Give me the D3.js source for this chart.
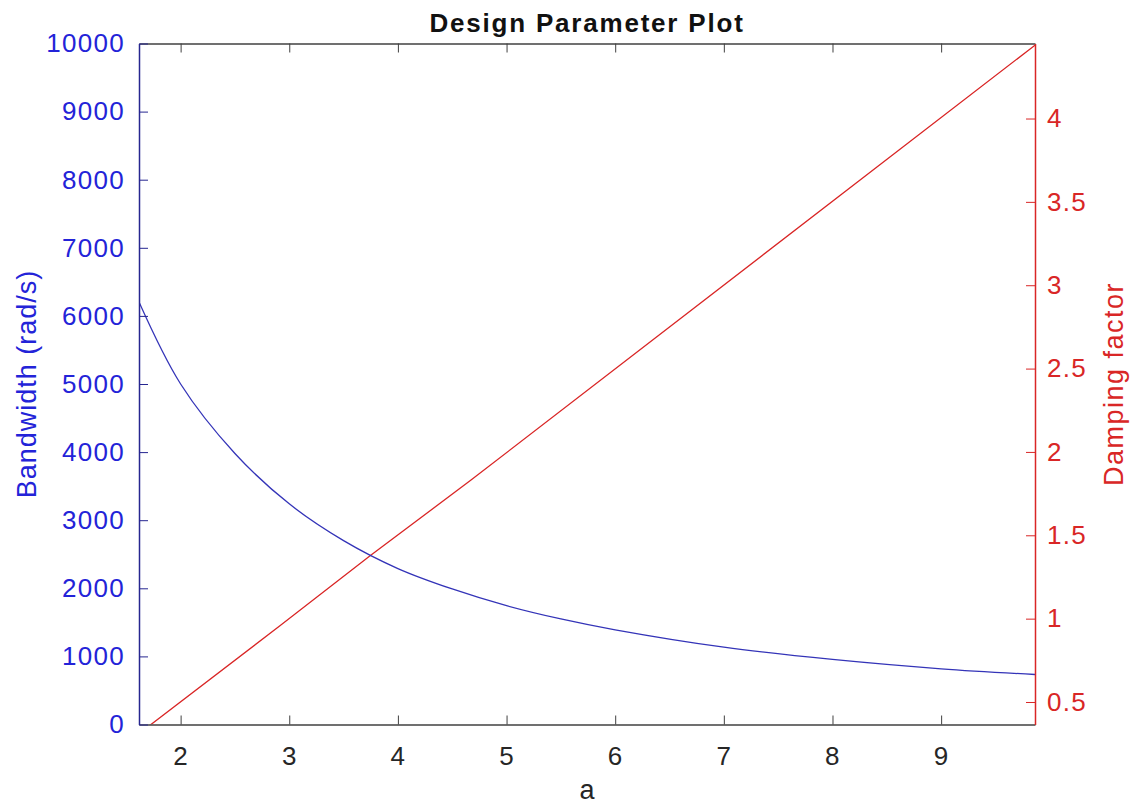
<!DOCTYPE html>
<html>
<head>
<meta charset="utf-8">
<script src="https://cdn.jsdelivr.net/npm/d3@7"></script>
<style>
  body { margin: 0; background: #fff; }
  text { font-family: "Liberation Sans", Arial, sans-serif; }
</style>
</head>
<body>
<svg id="chart" width="1134" height="807"></svg>
<script>
// values
const aBand = [1.617, 2.0, 2.5, 3.0, 3.5, 4.0, 4.5, 5.0, 5.5, 6.0, 7.0, 8.0, 9.0, 9.864];
const bandwidth = [6204, 5000, 3980, 3240, 2700, 2290, 1990, 1745, 1550, 1390, 1135, 955, 818, 734];
const aDamp = [1.617, 2.92, 3.75, 4.67, 9.864];
const damping = [0.31, 0.96, 1.38, 1.83, 4.44];
const xTicks = [2, 3, 4, 5, 6, 7, 8, 9];
const leftTicks = [0, 1000, 2000, 3000, 4000, 5000, 6000, 7000, 8000, 9000, 10000];
const rightTicks = [0.5, 1, 1.5, 2, 2.5, 3, 3.5, 4];

const blue = "#2323d8", red = "#d92626";

let dimensions = (svg, m) =>
    ({width: +svg.attr("width"), height: +svg.attr("height"), margin: m,
      innerWidth: +svg.attr("width") - m.left - m.right,
      innerHeight: +svg.attr("height") - m.top - m.bottom});

function designPlot(id) {
    const svg = d3.select(`#${id}`);
    const dim = dimensions(svg, {top: 43.5, left: 139, right: 99, bottom: 82.5});
    const g = svg.append("g")
          .attr("transform", `translate(${dim.margin.left}, ${dim.margin.top})`);

    const x = d3.scaleLinear().domain([1.617, 9.864]).range([0, dim.innerWidth]);
    const yL = d3.scaleLinear().domain([0, 10000]).range([dim.innerHeight, 0]);
    const yR = d3.scaleLinear().domain([0.365, 4.45]).range([dim.innerHeight, 0]);

    g.append("clipPath").attr("id", "clip")
        .append("rect").attr("width", dim.innerWidth).attr("height", dim.innerHeight);

    const band = aBand.map((a, i) => [a, bandwidth[i]]);
    const damp = aDamp.map((a, i) => [a, damping[i]]);

    g.append("path")
        .attr("clip-path", "url(#clip)")
        .attr("d", d3.line().x(d => x(d[0])).y(d => yR(d[1]))(damp))
        .attr("fill", "none")
        .attr("stroke", red)
        .attr("stroke-width", 1.3);

    g.append("path")
        .attr("clip-path", "url(#clip)")
        .attr("d", d3.line().curve(d3.curveCatmullRom).x(d => x(d[0])).y(d => yL(d[1]))(band))
        .attr("fill", "none")
        .attr("stroke", "#3434b8")
        .attr("stroke-width", 1.3);

    const tickFont = sel => sel.attr("font-size", 26).attr("letter-spacing", 1.3)
        .attr("font-family", "Liberation Sans, Arial, sans-serif");

    // bottom axis
    const xAxis = g.append("g")
          .attr("transform", `translate(0, ${dim.innerHeight})`)
          .call(d3.axisBottom(x).tickValues(xTicks).tickSize(-9).tickPadding(22).tickSizeOuter(0));
    xAxis.select(".domain").attr("stroke", "#404040").attr("stroke-width", 1.5);
    xAxis.selectAll(".tick line").attr("stroke", "#404040");
    xAxis.selectAll("text").attr("fill", "#262626").call(tickFont);

    // top axis
    const topAxis = g.append("g")
          .call(d3.axisTop(x).tickValues(xTicks).tickSize(-9).tickFormat("").tickSizeOuter(0));
    topAxis.select(".domain").attr("stroke", "#404040").attr("stroke-width", 1.5);
    topAxis.selectAll(".tick line").attr("stroke", "#404040");

    // left axis
    const left = g.append("g")
          .call(d3.axisLeft(yL).tickValues(leftTicks).tickSize(-9).tickPadding(14).tickSizeOuter(0)
                .tickFormat(d3.format("d")));
    left.select(".domain").attr("stroke", "#262690").attr("stroke-width", 1.5);
    left.selectAll(".tick line").attr("stroke", "#262690");
    left.selectAll("text").attr("fill", blue).call(tickFont);

    // right axis
    const right = g.append("g")
          .attr("transform", `translate(${dim.innerWidth}, 0)`)
          .call(d3.axisRight(yR).tickValues(rightTicks).tickSize(-9).tickPadding(12).tickSizeOuter(0)
                .tickFormat(d3.format("")));
    right.select(".domain").attr("stroke", red).attr("stroke-width", 1.5);
    right.selectAll(".tick line").attr("stroke", red);
    right.selectAll("text").attr("fill", red).call(tickFont);

    // title and labels
    svg.append("text")
        .attr("x", dim.margin.left + dim.innerWidth / 2).attr("y", 32)
        .attr("text-anchor", "middle").attr("font-size", 26).attr("font-weight", "bold")
        .attr("letter-spacing", 1.8)
        .attr("fill", "#111").text("Design Parameter Plot");

    svg.append("text")
        .attr("x", dim.margin.left + dim.innerWidth / 2).attr("y", 799)
        .attr("text-anchor", "middle").attr("font-size", 27)
        .attr("fill", "#262626").text("a");

    svg.append("text")
        .attr("transform", `translate(36, ${dim.margin.top + dim.innerHeight / 2}) rotate(-90)`)
        .attr("text-anchor", "middle").attr("font-size", 27).attr("letter-spacing", 1)
        .attr("fill", blue).text("Bandwidth (rad/s)");

    svg.append("text")
        .attr("transform", `translate(1123, ${dim.margin.top + dim.innerHeight / 2}) rotate(-90)`)
        .attr("text-anchor", "middle").attr("font-size", 27).attr("letter-spacing", 1.5)
        .attr("fill", red).text("Damping factor");
}

designPlot("chart");
</script>
</body>
</html>
